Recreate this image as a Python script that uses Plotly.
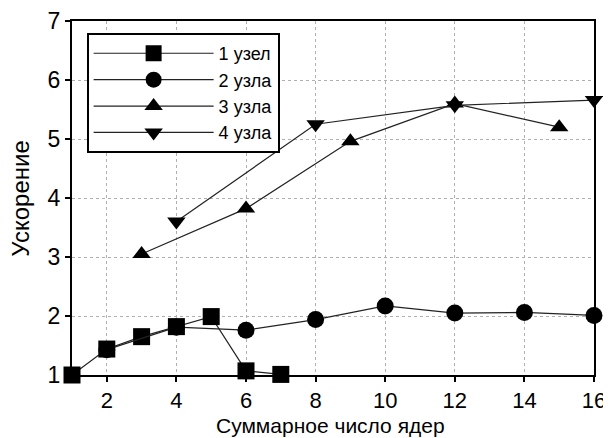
import plotly.graph_objects as go

# Data
x1 = [1, 2, 3, 4, 5, 6, 7]
y1 = [1.0, 1.44, 1.65, 1.82, 1.99, 1.07, 1.01]

x2 = [2, 4, 6, 8, 10, 12, 14, 16]
y2 = [1.43, 1.81, 1.76, 1.94, 2.17, 2.05, 2.06, 2.01]

x3 = [3, 6, 9, 12, 15]
y3 = [3.05, 3.82, 4.96, 5.6, 5.2]

x4 = [4, 8, 12, 16]
y4 = [3.6, 5.25, 5.57, 5.66]

names = ["1 узел", "2 узла", "3 узла", "4 узла"]
symbols = ["square", "circle", "triangle-up", "triangle-down"]
xticks = [2, 4, 6, 8, 10, 12, 14, 16]
yticks = [1, 2, 3, 4, 5, 6, 7]
x_title = "Суммарное число ядер"
y_title = "Ускорение"

FONT = "Liberation Sans, Arial, sans-serif"

fig = go.Figure()
for xs, ys, nm, sym in zip([x1, x2, x3, x4], [y1, y2, y3, y4], names, symbols):
    fig.add_trace(go.Scatter(
        x=xs, y=ys, name=nm, mode="lines+markers",
        line=dict(color="#222222", width=1.2),
        marker=dict(symbol=sym, size=17 if sym in ("square", "circle") else 16,
                    color="black", line=dict(width=0)),
        cliponaxis=False,
    ))

fig.update_layout(
    width=611, height=438,
    margin=dict(l=64, r=25, t=13, b=71, autoexpand=False),
    paper_bgcolor="white", plot_bgcolor="white",
    font=dict(family=FONT, color="black", size=22),
    showlegend=True,
    legend=dict(
        x=0.028, y=0.966, xanchor="left", yanchor="top",
        bgcolor="white", bordercolor="black", borderwidth=2,
        font=dict(size=18, family=FONT),
        itemwidth=120, tracegroupgap=0, itemsizing="trace",
    ),
    xaxis=dict(
        range=[1, 16], tickvals=xticks, ticktext=[str(v) for v in xticks],
        showgrid=True, gridcolor="#b0b0b0", griddash="dot", gridwidth=1,
        showline=True, linecolor="black", linewidth=2, mirror=True,
        ticks="outside", ticklen=5, tickwidth=2, tickcolor="black",
        tickfont=dict(size=22), zeroline=False, automargin=False,
    ),
    yaxis=dict(
        range=[1, 7], tickvals=yticks, ticktext=[str(v) for v in yticks],
        showgrid=True, gridcolor="#b0b0b0", griddash="dot", gridwidth=1,
        showline=True, linecolor="black", linewidth=2, mirror=True,
        ticks="outside", ticklen=5, tickwidth=2, tickcolor="black",
        tickfont=dict(size=23), zeroline=False, automargin=False,
    ),
    annotations=[
        dict(text=x_title, xref="paper", yref="paper", x=0.495, y=-0.178,
             xanchor="center", yanchor="bottom", showarrow=False,
             borderpad=0, font=dict(size=21, family=FONT)),
        dict(text=y_title, xref="paper", yref="paper", x=-0.099, y=0.499,
             xanchor="center", yanchor="middle", showarrow=False, textangle=-90,
             font=dict(size=24, family=FONT)),
    ],
)

fig.write_html("out.html")
